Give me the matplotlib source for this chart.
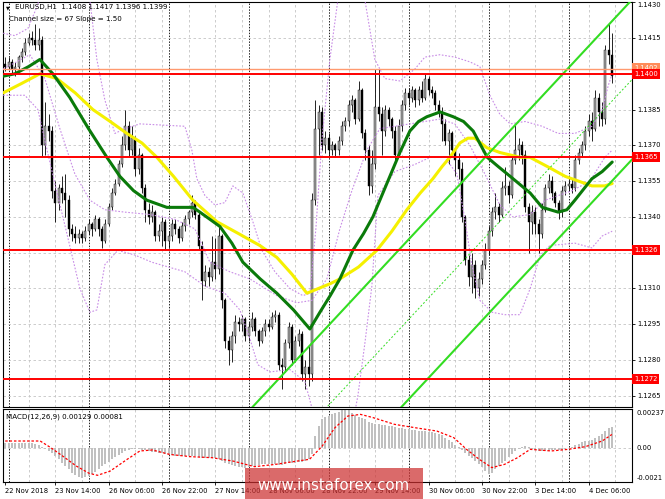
import numpy as np
import matplotlib
matplotlib.use('Agg')
import matplotlib.pyplot as plt
import matplotlib.transforms as mtransforms
from matplotlib.patches import Rectangle

# EURUSD H1 bars, 22 Nov 23:00 .. 4 Dec 13:00 (bar index 0..182)
first_open = 1.1404
close_px = [1.1403, 1.1405, 1.1402, 1.1403, 1.1407, 1.1409, 1.1413, 1.1415, 1.1414, 1.1412,
            1.1414, 1.1370, 1.1378, 1.1376, 1.1351, 1.1346, 1.1352, 1.1350, 1.1347, 1.1335,
            1.1333, 1.1331, 1.1333, 1.1331, 1.1334, 1.1337, 1.1335, 1.1339, 1.1335, 1.1330,
            1.1337, 1.1344, 1.1350, 1.1354, 1.1362, 1.1370, 1.1378, 1.1368, 1.1373, 1.1360,
            1.1366, 1.1352, 1.1343, 1.1340, 1.1342, 1.1332, 1.1334, 1.1338, 1.1330, 1.1332,
            1.1337, 1.1335, 1.1331, 1.1336, 1.1339, 1.1342, 1.1346, 1.1341, 1.1328, 1.1313,
            1.1317, 1.1315, 1.1321, 1.1318, 1.1332, 1.1305, 1.1288, 1.1284, 1.1290, 1.1296,
            1.1295, 1.1297, 1.1290, 1.1294, 1.1297, 1.1292, 1.1288, 1.1292, 1.1295, 1.1294,
            1.1298, 1.1299, 1.1278, 1.1277, 1.1287, 1.1294, 1.1280, 1.1288, 1.1291, 1.1274,
            1.1277, 1.1274, 1.1347, 1.1377, 1.1384, 1.1370, 1.1373, 1.1368, 1.1370, 1.1368,
            1.1372, 1.1378, 1.1380, 1.1387, 1.1389, 1.1381, 1.1393, 1.1375, 1.1368, 1.1353,
            1.1362, 1.1386, 1.1383, 1.1376, 1.1385, 1.1381, 1.1376, 1.1366, 1.1378, 1.1387,
            1.1392, 1.1390, 1.1393, 1.1389, 1.1393, 1.1390, 1.1398, 1.1393, 1.1392, 1.1387,
            1.1384, 1.1379, 1.1372, 1.1375, 1.1368, 1.1364, 1.1360, 1.1340, 1.1322, 1.1315,
            1.1320, 1.1310, 1.1314, 1.1320, 1.1326, 1.1334, 1.1342, 1.1344, 1.1341, 1.1352,
            1.1353, 1.1349, 1.1364, 1.1368, 1.1370, 1.1366, 1.1344, 1.1338, 1.1342, 1.1337,
            1.1333, 1.1343, 1.1352, 1.1355, 1.1350, 1.1346, 1.1342, 1.1351, 1.1353, 1.1354,
            1.1352, 1.1364, 1.1367, 1.1370, 1.1376, 1.1380, 1.1377, 1.1390, 1.1384, 1.1381,
            1.1410, 1.1408, 1.1399]
high_px = [1.1407, 1.1407, 1.1406, 1.1405, 1.1408, 1.1411, 1.1415, 1.1417, 1.1418, 1.1421,
           1.1419, 1.1416, 1.1388, 1.1383, 1.1378, 1.1355, 1.1354, 1.1357, 1.1358, 1.1349,
           1.1337, 1.1336, 1.1335, 1.1334, 1.1336, 1.1339, 1.1338, 1.1341, 1.1340, 1.1336,
           1.1339, 1.1346, 1.1352, 1.1356, 1.1364, 1.1374, 1.1385, 1.1380, 1.1378, 1.1374,
           1.1369, 1.1367, 1.1354, 1.1346, 1.1345, 1.1343, 1.1337, 1.1340, 1.1339, 1.1334,
           1.1339, 1.1339, 1.1336, 1.1338, 1.1341, 1.1343, 1.1349, 1.1347, 1.1342, 1.1330,
           1.1320, 1.1319, 1.1332, 1.1331, 1.1336, 1.1333, 1.1306, 1.1290, 1.1292, 1.1299,
           1.1298, 1.1299, 1.1298, 1.1296, 1.1300, 1.1298, 1.1293, 1.1294, 1.1297, 1.1297,
           1.1300, 1.1301, 1.1300, 1.1281, 1.1289, 1.1296, 1.1295, 1.1290, 1.1293, 1.1292,
           1.1280, 1.1286, 1.1350, 1.1389, 1.1387, 1.1386, 1.1376, 1.1375, 1.1372, 1.1371,
           1.1374, 1.1380, 1.1382, 1.1389, 1.1391, 1.1390, 1.1397, 1.1394, 1.1377, 1.1370,
           1.1368, 1.1402, 1.1402, 1.1386, 1.1387, 1.1386, 1.1382, 1.1378, 1.1381, 1.1389,
           1.1394, 1.1394, 1.1395, 1.1394, 1.1395, 1.1397, 1.1400, 1.1399, 1.1395, 1.1393,
           1.1389, 1.1386, 1.1381, 1.1377, 1.1376, 1.1369, 1.1367, 1.1363, 1.1341, 1.1324,
           1.1325, 1.1322, 1.1317, 1.1322, 1.1329, 1.1336, 1.1344, 1.1350, 1.1346, 1.1355,
           1.1361, 1.1355, 1.1366, 1.1379, 1.1373, 1.1372, 1.1368, 1.1346, 1.1345, 1.1344,
           1.1339, 1.1346, 1.1354, 1.1358, 1.1357, 1.1351, 1.1347, 1.1353, 1.1355, 1.1356,
           1.1356, 1.1366, 1.1369, 1.1372, 1.1378, 1.1383, 1.1384, 1.1393, 1.1392, 1.1388,
           1.1412, 1.1421, 1.1417]
low_px = [1.1401, 1.1402, 1.1400, 1.1399, 1.1402, 1.1405, 1.1408, 1.1412, 1.1412, 1.1410,
          1.1410, 1.1365, 1.1366, 1.1372, 1.1348, 1.1338, 1.1343, 1.1346, 1.1340, 1.1332,
          1.1330, 1.1329, 1.1329, 1.1329, 1.1330, 1.1333, 1.1332, 1.1334, 1.1332, 1.1327,
          1.1329, 1.1336, 1.1343, 1.1349, 1.1353, 1.1361, 1.1368, 1.1365, 1.1366, 1.1357,
          1.1358, 1.1350, 1.1338, 1.1337, 1.1338, 1.1330, 1.1330, 1.1328, 1.1326, 1.1327,
          1.1330, 1.1333, 1.1329, 1.1330, 1.1334, 1.1337, 1.1340, 1.1339, 1.1326, 1.1305,
          1.1311, 1.1311, 1.1313, 1.1314, 1.1316, 1.1302, 1.1285, 1.1278, 1.1279, 1.1287,
          1.1292, 1.1292, 1.1288, 1.1288, 1.1292, 1.1290, 1.1286, 1.1287, 1.1290, 1.1292,
          1.1293, 1.1296, 1.1276, 1.1268, 1.1275, 1.1285, 1.1278, 1.1279, 1.1286, 1.1271,
          1.1268, 1.1269, 1.1271, 1.1345, 1.1366, 1.1368, 1.1367, 1.1365, 1.1366, 1.1365,
          1.1366, 1.1370, 1.1376, 1.1378, 1.1384, 1.1379, 1.1380, 1.1373, 1.1364, 1.1349,
          1.1350, 1.1360, 1.1380, 1.1366, 1.1374, 1.1378, 1.1373, 1.1364, 1.1365, 1.1376,
          1.1385, 1.1387, 1.1388, 1.1386, 1.1387, 1.1388, 1.1389, 1.1391, 1.1390, 1.1385,
          1.1382, 1.1372, 1.1370, 1.1362, 1.1366, 1.1357, 1.1356, 1.1338, 1.1320, 1.1311,
          1.1308, 1.1306, 1.1307, 1.1312, 1.1318, 1.1324, 1.1332, 1.1339, 1.1338, 1.1340,
          1.1349, 1.1346, 1.1348, 1.1362, 1.1364, 1.1362, 1.1342, 1.1325, 1.1333, 1.1333,
          1.1325, 1.1331, 1.1342, 1.1350, 1.1347, 1.1344, 1.1339, 1.1340, 1.1349, 1.1351,
          1.1350, 1.1351, 1.1362, 1.1365, 1.1368, 1.1374, 1.1372, 1.1376, 1.1378, 1.1378,
          1.1379, 1.1404, 1.1396]

# moving averages (vertices: bar index, price)
ma_green_idx = [-0.6, 2.9, 7.0, 10.4, 14.3, 19.4, 25.0, 30.5, 34.4, 38.5, 42.5, 48.5, 56.3, 58.4,
                64.4, 68.0, 71.3, 76.5, 81.5, 86.5, 91.4, 94.4, 97.5, 100.4, 104.3, 107.5, 110.3,
                114.5, 118.4, 121.4, 124.0, 126.5, 130.5, 134.4, 137.5, 140.4, 144.6, 148.0,
                151.5, 157.5, 161.1, 165.9, 168.5, 170.9, 176.0, 179.1, 182.1]
ma_green_val = [1.1399, 1.1400, 1.1403, 1.1406, 1.1400, 1.1390, 1.1377, 1.1365, 1.1357, 1.1351,
                1.1347, 1.1344, 1.1344, 1.1342, 1.1336, 1.1329, 1.1321, 1.1314, 1.1308, 1.1301,
                1.1293, 1.1300, 1.1307, 1.1314, 1.1326, 1.1333, 1.1340, 1.1354, 1.1367, 1.1376,
                1.1380, 1.1382, 1.1384, 1.1382, 1.1380, 1.1376, 1.1365, 1.1361, 1.1357, 1.1350,
                1.1344, 1.1342, 1.1343, 1.1347, 1.1356, 1.1359, 1.1363]
ma_yellow_idx = [-0.6, 5.0, 10.4, 15.5, 21.0, 26.3, 31.5, 36.5, 41.0, 45.5, 50.5, 56.3, 63.5,
                 70.0, 76.4, 81.5, 86.0, 90.5, 94.0, 97.5, 100.4, 106.0, 111.5, 116.0, 120.5,
                 124.5, 128.3, 131.0, 133.4, 136.4, 138.8, 140.9, 144.5, 148.4, 154.4, 157.4,
                 162.8, 168.0, 176.0, 179.9, 182.1]
ma_yellow_val = [1.1392, 1.1396, 1.1400, 1.1398, 1.1392, 1.1385, 1.1380, 1.1375, 1.1371, 1.1365,
                 1.1357, 1.1347, 1.1338, 1.1333, 1.1328, 1.1323, 1.1316, 1.1308, 1.1310, 1.1312,
                 1.1314, 1.1319, 1.1326, 1.1334, 1.1343, 1.1350, 1.1356, 1.1361, 1.1365, 1.1371,
                 1.1373, 1.1373, 1.1369, 1.1367, 1.1365, 1.1365, 1.1361, 1.1357, 1.1353, 1.1353,
                 1.1354]

# bollinger bands (dotted violet)
bb_up_idx = [-0.6, 2.9, 6.8, 9.8, 11.9, 23.9, 25.4, 27.5, 29.9, 32.9, 35.9, 40.4, 53.9, 56.0, 57.5,
             59.9, 62.9, 65.9, 68.3, 71.3, 74.3, 77.0, 80.9, 85.4, 89.3, 91.4, 93.2, 95.0, 97.4,
             99.8, 101.9, 104.9, 107.9, 110.9, 113.9, 118.4, 122.9, 125.9, 130.4, 134.9, 139.4,
             142.4, 145.4, 148.4, 151.5, 156.0, 161.1, 165.9, 170.9, 176.0, 179.1, 180.9, 182.1]
bb_up_val = [1.1417, 1.1416, 1.1419, 1.1429, 1.1444, 1.1444, 1.1431, 1.1406, 1.1389, 1.1375,
             1.1377, 1.1379, 1.1378, 1.1368, 1.1356, 1.1349, 1.1345, 1.1346, 1.1353, 1.1350,
             1.1338, 1.1326, 1.1317, 1.1310, 1.1307, 1.1308, 1.1335, 1.1372, 1.1406, 1.1431,
             1.1448, 1.1448, 1.1431, 1.1406, 1.1398, 1.1397, 1.1402, 1.1407, 1.1408, 1.1407,
             1.1405, 1.1403, 1.1391, 1.1383, 1.1379, 1.1380, 1.1378, 1.1375, 1.1375, 1.1378,
             1.1385, 1.1395, 1.1400]
bb_mid_idx = [-0.6, 7.4, 11.9, 16.4, 20.9, 25.4, 29.9, 35.9, 43.4, 50.9, 56.9, 61.4, 67.4, 73.4,
              81.5, 87.5, 92.0, 96.5, 100.4, 104.0, 108.5, 112.4, 121.4, 130.4, 134.9, 139.4,
              143.9, 148.4, 152.3, 157.5, 162.0, 170.1, 175.4, 179.9, 182.1]
bb_mid_val = [1.1402, 1.1408, 1.1398, 1.1377, 1.1358, 1.1347, 1.1343, 1.1342, 1.1341, 1.1339,
              1.1335, 1.1321, 1.1317, 1.1314, 1.1307, 1.1304, 1.1305, 1.1314, 1.1335, 1.1351,
              1.1368, 1.1377, 1.1379, 1.1381, 1.1379, 1.1370, 1.1358, 1.1345, 1.1340, 1.1341,
              1.1347, 1.1351, 1.1355, 1.1365, 1.1368]
bb_lo_idx = [-0.6, 5.9, 9.8, 11.9, 14.9, 18.5, 22.4, 25.4, 27.5, 29.9, 33.8, 38.9, 44.0, 53.9,
             59.9, 65.9, 70.4, 73.4, 75.8, 79.4, 85.4, 89.9, 92.0, 93.8, 103.4, 105.8, 107.9,
             110.0, 111.8, 116.9, 122.9, 127.5, 131.9, 135.5, 137.9, 140.0, 142.4, 146.1, 149.9,
             154.4, 157.5, 160.5, 163.4, 170.9, 176.0, 179.1, 182.1]
bb_lo_val = [1.1391, 1.1391, 1.1385, 1.1372, 1.1354, 1.1333, 1.1310, 1.1300, 1.1301, 1.1320,
             1.1326, 1.1324, 1.1321, 1.1317, 1.1311, 1.1308, 1.1301, 1.1289, 1.1278, 1.1275,
             1.1276, 1.1271, 1.1260, 1.1247, 1.1247, 1.1265, 1.1287, 1.1311, 1.1349, 1.1359,
             1.1362, 1.1365, 1.1365, 1.1358, 1.1339, 1.1320, 1.1305, 1.1300, 1.1299, 1.1299,
             1.1310, 1.1324, 1.1328, 1.1329, 1.1327, 1.1332, 1.1334]

# regression channel: middle line end points, half width 67 pips / 2
chan_idx = [60, 188]
chan_mid = [1.12055, 1.13975]
chan_half = 0.00335

levels_red = [1.1400, 1.1365, 1.1326, 1.1272]
level_orange = 1.1402
price_ticks = [1.1265, 1.1280, 1.1295, 1.1310, 1.1325, 1.1340, 1.1355, 1.1370, 1.1385, 1.1400, 1.1415, 1.1430]
hidden_ticks = [1.1325, 1.1400]

# MACD(12,26,9) histogram per bar and signal line, in 1e-5
macd_hist = [28, 30, 30, 28, 28, 30, 30, 28, 30, 25,
             15, 5, -8, -20, -35, -51, -72, -92, -112, -133,
             -153, -168, -180, -184, -180, -173, -162, -150, -133, -115,
             -102, -85, -68, -55, -42, -31, -22, -15, -10, -8,
             -10, -12, -16, -20, -24, -27, -30, -33, -38, -42,
             -46, -50, -51, -51, -50, -51, -51, -53, -58, -65,
             -63, -62, -61, -65, -70, -80, -95, -102, -108, -112,
             -118, -120, -122, -120, -115, -110, -106, -102, -100, -100,
             -102, -100, -104, -105, -100, -96, -96, -92, -90, -86,
             -82, -70, -40, 71, 133, 173, 188, 195, 205, 212,
             220, 228, 235, 230, 215, 200, 190, 182, 173, 160,
             150, 148, 143, 140, 137, 135, 133, 128, 122, 118,
             114, 112, 110, 106, 104, 102, 100, 98, 95, 92,
             85, 75, 62, 48, 32, 18, 6, -15, -31, -48,
             -61, -80, -100, -120, -143, -163, -155, -132, -112, -95,
             -80, -55, -38, -22, -8, 5, 12, 4, -6, -14,
             -18, -20, -19, -18, -17, -15, -14, -12, -8, -3,
             4, 16, 24, 32, 38, 42, 50, 60, 70, 82,
             100, 118, 129]
sig_idx = [0, 10.5, 13.7, 17.5, 21.3, 25.2, 27.7, 31.5, 36.6, 40.4, 44.2, 49.3, 55.7, 62, 68.4,
           74.8, 81.1, 87.5, 91.3, 95.1, 98.9, 102.8, 106.6, 110.4, 116.8, 123.1, 129.5, 134.6,
           138.4, 142.2, 146, 149.8, 153.7, 157.5, 163.8, 168.9, 174, 179.1, 182]
sig_val = [41, 41, 0, -55, -112, -157, -169, -143, -71, -20, -14, -41, -55, -61, -82,
           -116, -102, -82, -71, 10, 122, 194, 204, 184, 143, 122, 102, 61,
           -10, -71, -122, -102, -61, -10, -20, -10, 6, 41, 81]

grid_idx = list(range(7, 188, 8))
day_idx = [1, 25, 49, 73, 97, 121, 145, 169]
date_idx = [0, 15, 31, 47, 63, 79, 95, 111, 127, 143, 159, 175]
date_labels = ['22 Nov 2018', '23 Nov 14:00', '26 Nov 06:00', '26 Nov 22:00', '27 Nov 14:00',
               '28 Nov 06:00', '28 Nov 22:00', '29 Nov 14:00', '30 Nov 06:00', '30 Nov 22:00',
               '3 Dec 14:00', '4 Dec 06:00']

fs = 4.9
W, H = 665., 499.
fig = plt.figure(figsize=(6.65, 4.99), dpi=100)
ax = fig.add_axes([3/W, 1-407/H, 629/W, 405/H])
macd = fig.add_axes([3/W, 1-482/H, 629/W, 73/H])

xl = (-0.66, 188.04)
for a in [ax, macd]:
  a.set_xlim(xl)
  for s in a.spines.values():
    s.set_linewidth(0.8)
    s.set_color('#000000')
  for gi in grid_idx:
    a.axvline(gi, color='#C4C4C4', lw=0.6, ls=(0, (3, 3)), zorder=0)
  for di in day_idx:
    a.axvline(di, color='#202020', lw=0.7, ls=(0, (1.5, 1.5)), zorder=0.5)

# main panel
ax.set_ylim(1.12603, 1.14301)
ax.set_yticks(price_ticks)
ax.set_xticks([])
ax.tick_params(axis='y', left=False, right=True, labelleft=False, labelright=False,
               length=2.5, width=0.6)
ax.grid(axis='y', color='#C4C4C4', lw=0.6, ls=(0, (3, 3)), zorder=0)

idx = np.arange(len(close_px))
c = np.array(close_px)
o = np.array([first_open] + close_px[:-1])
h = np.array(high_px)
l = np.array(low_px)
up = c >= o
body_lo = np.minimum(o, c)
body_h = np.maximum(np.abs(c - o), 0.00002)
ax.vlines(idx, l, h, color='#000000', lw=0.6, zorder=2)
ax.bar(idx, body_h, bottom=body_lo, width=0.62,
       color=np.where(up, '#A8A8A8', '#000000'), edgecolor='#000000', lw=0.3, zorder=2.1)

ax.plot(bb_up_idx, bb_up_val, color='#C88CE6', lw=0.8, ls=(0, (1.5, 1.5)), zorder=3)
ax.plot(bb_mid_idx, bb_mid_val, color='#C88CE6', lw=0.8, ls=(0, (1.5, 1.5)), zorder=3)
ax.plot(bb_lo_idx, bb_lo_val, color='#C88CE6', lw=0.8, ls=(0, (1.5, 1.5)), zorder=3)

ax.plot(ma_yellow_idx, ma_yellow_val, color='#F5F000', lw=2.2, zorder=4,
        solid_capstyle='round', solid_joinstyle='round')
ax.plot(ma_green_idx, ma_green_val, color='#0A7A0A', lw=2.2, zorder=4.1,
        solid_capstyle='round', solid_joinstyle='round')

cm = np.array(chan_mid)
ax.plot(chan_idx, cm + chan_half, color='#33DD22', lw=1.5, zorder=4.2)
ax.plot(chan_idx, cm - chan_half, color='#33DD22', lw=1.5, zorder=4.2)
ax.plot(chan_idx, cm, color='#33DD22', lw=0.7, ls=(0, (2, 2)), zorder=4.2)

ax.axhline(level_orange, color='#FF9A70', lw=1.0, zorder=5)
for lv in levels_red:
  ax.axhline(lv, color='#FF0000', lw=1.4, zorder=5)

tr = mtransforms.blended_transform_factory(ax.transAxes, ax.transData)
for pt in price_ticks:
  if pt in hidden_ticks:
    continue
  va = 'top' if pt == max(price_ticks) else 'center'
  ax.text(1 + 5/629, pt, '%.4f' % pt, transform=tr, fontsize=fs, va=va, ha='left', clip_on=False)
ax.text(1 + 2/629, level_orange + 0.00003, '%.4f' % level_orange, transform=tr, fontsize=fs,
        va='center', ha='left', color='white', clip_on=False, zorder=6,
        bbox=dict(boxstyle='square,pad=0.3', fc='#FF8C5A', ec='#FF8C5A', lw=0))
for lv in levels_red:
  ax.text(1 + 2/629, lv, '%.4f' % lv, transform=tr, fontsize=fs, va='center', ha='left',
          color='white', clip_on=False, zorder=7,
          bbox=dict(boxstyle='square,pad=0.3', fc='#FF0000', ec='#FF0000', lw=0))

# MACD panel
mlo, mhi = -0.0021, 0.00237
macd.set_ylim(mlo, mhi)
macd.set_yticks([])
macd.axhline(0, color='#C4C4C4', lw=0.6, ls=(0, (3, 3)), zorder=0)
macd.bar(idx, np.array(macd_hist) * 1e-5, width=0.6, color='#C0C0C0', zorder=2)
macd.plot(sig_idx, np.array(sig_val) * 1e-5, color='#FF0000', lw=0.9, ls=(0, (2, 1.5)), zorder=3)
macd.set_xticks(date_idx)
macd.set_xticklabels(date_labels, ha='left', fontsize=fs)
macd.tick_params(axis='x', length=2, width=0.6, pad=2)
trm = mtransforms.blended_transform_factory(macd.transAxes, macd.transData)
macd.text(1 + 5/629, mhi - 0.00008, '0.00237', transform=trm, fontsize=fs, va='top', ha='left')
macd.text(1 + 5/629, 0, '0.00', transform=trm, fontsize=fs, va='center', ha='left')
macd.text(1 + 5/629, mlo + 0.00008, '-0.0021', transform=trm, fontsize=fs, va='bottom', ha='left')

# captions
fig.text(6/W, 1-7.5/H, u'\u25bc', fontsize=3.5, va='center')
fig.text(15/W, 1-7.5/H, 'EURUSD,H1  1.1408 1.1417 1.1396 1.1399', fontsize=5.1, va='center')
fig.text(9/W, 1-19.5/H, 'Channel size = 67 Slope = 1.50', fontsize=5.1, va='center')
fig.text(6/W, 1-417/H, 'MACD(12,26,9) 0.00129 0.00081', fontsize=5.1, va='center')

# watermark
fig.patches.append(Rectangle((245/W, 0), 178/W, 31/H, transform=fig.transFigure,
                             fc='#CC3030', alpha=0.72, ec='none', zorder=10))
fig.text(334/W, 14/H, 'www.instaforex.com', color='white', fontsize=10.8,
         ha='center', va='center', zorder=11)

fig.savefig('out.png', dpi=100)
